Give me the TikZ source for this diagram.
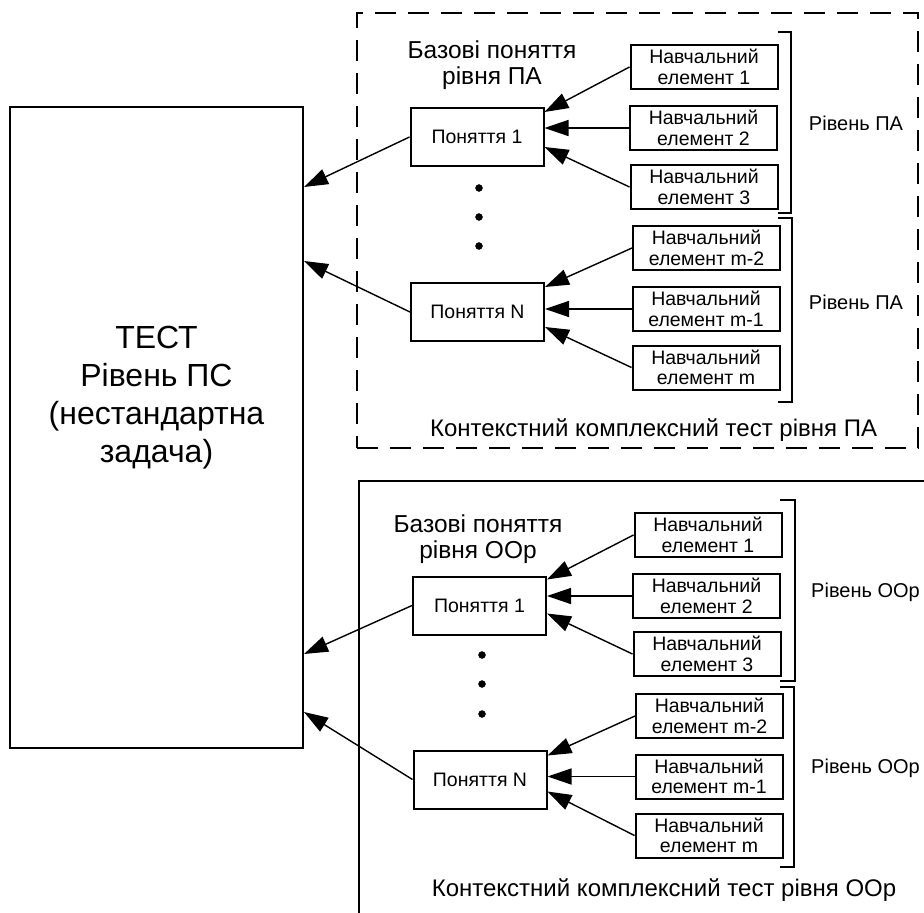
\documentclass[tikz,border=0pt]{standalone}
\usepackage{fontspec}
\setmainfont{Liberation Sans}
\usetikzlibrary{arrows.meta,calc}
\tikzset{
	testbox/.style={draw,line width=2pt,minimum width=293pt,minimum height=641pt},
	concept/.style={draw,line width=2pt,minimum width=133pt,minimum height=58pt,font=\fontsize{19.5}{22}\selectfont},
	elem/.style={draw,line width=2pt,minimum width=147pt,minimum height=44pt,inner sep=0pt,align=center,font=\fontsize{19.5}{20.5}\selectfont},
	headtxt/.style={align=center,font=\fontsize{24.5}{26.5}\selectfont},
	captxt/.style={font=\fontsize{24}{26}\selectfont},
	lvltxt/.style={font=\fontsize{20}{22}\selectfont},
	link/.style={line width=1.4pt,-{Triangle[length=24pt,width=16pt]}},
	brk/.style={line width=2.2pt},
}
\begin{document}
\begin{tikzpicture}[x=1pt,y=-1pt]
			\useasboundingbox (0,0) rectangle (924,913);
			\clip (0,0) rectangle (924,913);

			\node[testbox] (test) at (156.5,427.5) {};
			\node[align=center,font=\fontsize{32}{38}\selectfont] (testtxt) at (156.5,398) {ТЕСТ\\Рівень ПС\\(нестандартна\\задача)};

			\node[draw,line width=2.4pt,dash pattern=on 21pt off 12pt,minimum width=561pt,minimum height=435pt] (ctxa) at (637.5,230.5) {};
			\node[headtxt] (heada) at (492,65) {Базові поняття\\рівня ПА};
			\node[concept] (p1a) at (477,137) {Поняття 1};
			\node[concept] (pNa) at (477.5,312) {Поняття N};
			\coordinate (da1) at (479,188);
			\coordinate (da2) at (479,217);
			\coordinate (da3) at (479,246);
			\draw[fill=black] (da1) circle (3.5);
			\draw[fill=black] (da2) circle (3.5);
			\draw[fill=black] (da3) circle (3.5);
			\node[elem] (e1a) at (704,67) {Навчальний\\елемент 1};
			\node[elem] (e2a) at (703.5,128) {Навчальний\\елемент 2};
			\node[elem] (e3a) at (704,187) {Навчальний\\елемент 3};
			\node[elem] (e4a) at (706.5,248) {Навчальний\\елемент m-2};
			\node[elem] (e5a) at (706,309) {Навчальний\\елемент m-1};
			\node[elem] (e6a) at (706,367.5) {Навчальний\\елемент m};
			\draw[brk] (778,32)--(791,32)--(791,213)--(778,213);
			\draw[brk] (778,218)--(792,218)--(792,402)--(778,402);
			\node[lvltxt] (lva1) at (856,123) {Рівень ПА};
			\node[lvltxt] (lva2) at (856,302) {Рівень ПА};
			\node[captxt] (capa) at (653.5,430) {Контекстний комплексний тест рівня ПА};

			\draw[link] (e1a.west)--($(p1a.east)+(0,-25)$);
			\draw[link] (e2a.west)--(e2a.west -| p1a.east);
			\draw[link] (e3a.west)--($(p1a.east)+(0,10)$);
			\draw[link] (e4a.west)--($(pNa.east)+(0,-25)$);
			\draw[link] (e5a.west)--(e5a.west -| pNa.east);
			\draw[link] (e6a.west)--($(pNa.east)+(0,15)$);
			\draw[link] (p1a.west)--($(test.north east)+(0,81)$);
			\draw[link] (pNa.west)--($(test.north east)+(0,155)$);

			\draw[line width=2pt] (359,940) |- (950,481);
			\node[headtxt] (headb) at (478,539) {Базові поняття\\рівня ООр};
			\node[concept] (p1b) at (479.5,605.5) {Поняття 1};
			\node[concept] (pNb) at (480,779.5) {Поняття N};
			\coordinate (db1) at (482,655);
			\coordinate (db2) at (482,684);
			\coordinate (db3) at (482,714);
			\draw[fill=black] (db1) circle (3.5);
			\draw[fill=black] (db2) circle (3.5);
			\draw[fill=black] (db3) circle (3.5);
			\node[elem] (e1b) at (708,535) {Навчальний\\елемент 1};
			\node[elem] (e2b) at (706.5,596) {Навчальний\\елемент 2};
			\node[elem] (e3b) at (707,654) {Навчальний\\елемент 3};
			\node[elem] (e4b) at (709.5,716) {Навчальний\\елемент m-2};
			\node[elem] (e5b) at (709,776.5) {Навчальний\\елемент m-1};
			\node[elem] (e6b) at (709,835.5) {Навчальний\\елемент m};
			\draw[brk] (780,500)--(795,500)--(795,681)--(780,681);
			\draw[brk] (780,687)--(794,687)--(794,867)--(780,867);
			\node[lvltxt] (lvb1) at (865.5,592) {Рівень ООр};
			\node[lvltxt] (lvb2) at (865.5,768) {Рівень ООр};
			\node[captxt] (capb) at (664,890) {Контекстний комплексний тест рівня ООр};

			\draw[link] (e1b.west)--($(p1b.east)+(0,-26)$);
			\draw[link] (e2b.west)--(e2b.west -| p1b.east);
			\draw[link] (e3b.west)--($(p1b.east)+(0,8)$);
			\draw[link] (e4b.west)--($(pNb.east)+(0,-24)$);
			\draw[link] (e5b.west)--(e5b.west -| pNb.east);
			\draw[link] (e6b.west)--($(pNb.east)+(0,12)$);
			\draw[link] (p1b.west)--($(test.north east)+(0,548)$);
			\draw[link] (pNb.west)--($(test.north east)+(0,606)$);
		\end{tikzpicture}
\end{document}
